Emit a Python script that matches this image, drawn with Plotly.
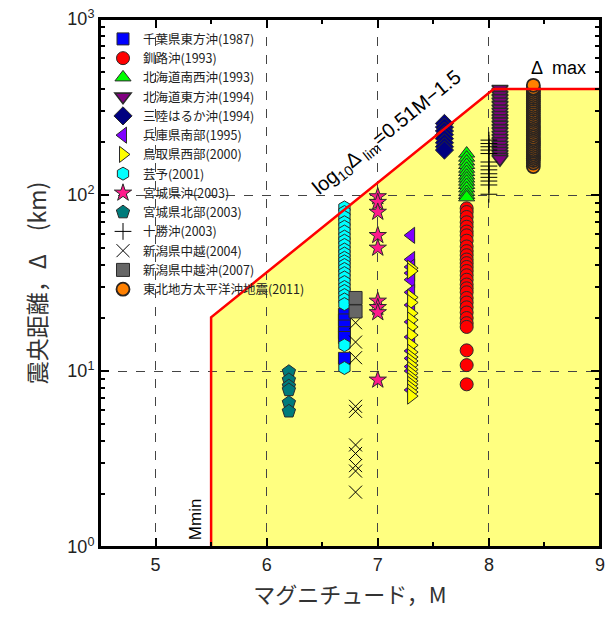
import math
import plotly.graph_objects as go

# ---------------- data ----------------
event_names = [
    "千葉県東方沖(1987)", "釧路沖(1993)", "北海道南西沖(1993)", "北海道東方沖(1994)",
    "三陸はるか沖(1994)", "兵庫県南部(1995)", "鳥取県西部(2000)", "芸予(2001)",
    "宮城県沖(2003)", "宮城県北部(2003)", "十勝沖(2003)", "新潟県中越(2004)",
    "新潟県中越沖(2007)", "東北地方太平洋沖地震(2011)",
]
event_magnitudes = [6.7, 7.8, 7.8, 8.1, 7.6, 7.3, 7.3, 6.7, 7.0, 6.2, 8.0, 6.8, 6.8, 8.4]

dist_chiba = [21, 19.5, 18, 16.5, 15.5, 11.8]
dist_kushiro = [84, 80, 75, 70, 66, 62, 59, 55, 51, 48, 45.5, 43, 41, 39, 37, 35, 33, 31,
                29.5, 28, 26, 24.5, 23, 21.5, 20, 18.7, 17.8, 13.1, 10.8, 8.4]
dist_nansei = [172, 163, 155, 148, 141, 135, 129, 124, 119, 114, 109, 104, 100, 97]
dist_toho = [400, 385, 370, 355, 340, 325, 310, 297, 285, 273, 262, 251, 240, 230, 220,
             211, 202, 193, 185, 178, 171, 165, 160]
dist_sanriku = [255, 243, 231, 220, 209, 198, 188, 180]
dist_hyogo = [59, 43, 39, 36, 33, 28, 23.7, 19, 15.6, 13, 11.8, 10.6, 10, 7.8]
dist_tottori = [38.4, 37, 26.2, 24.5, 21.3, 19.5, 17.8, 16, 14, 12.8, 12, 11.4, 10.8,
                10.2, 9.7, 9.2, 8.8, 8.4, 8, 7.6, 7.2]
dist_geiyo = [85, 80, 75, 70, 66, 62, 58, 55, 52, 49, 46.5, 44, 42, 40, 38, 36, 34, 32,
              30, 28.5, 27, 25.5, 24, 14, 10.4]
dist_miyagi_oki = [98, 91, 80, 59, 50, 25, 23, 21.5, 8.9]
dist_miyagi_hokubu = [9.9, 8.9, 8.2, 7.8, 6.6, 5.9]
dist_tokachi = [205, 196, 188, 180, 172, 154, 146, 139, 132, 126, 120, 114, 101]
dist_chuetsu = [18.8, 14.6, 11.9, 6.3, 5.9, 3.8, 3.4, 2.9, 2.7, 2.05]
dist_chuetsu_oki = [26, 21.8]
dist_tohoku = [145, 152, 157, 161, 165, 169, 173, 177, 181, 186, 191, 196, 201, 206, 211,
               217, 223, 229, 235, 241, 247, 254, 261, 268, 275, 282, 290, 298, 306, 314,
               322, 331, 340, 349, 358, 367, 377, 387, 397, 405, 420]

event_distances = [dist_chiba, dist_kushiro, dist_nansei, dist_toho, dist_sanriku,
                   dist_hyogo, dist_tottori, dist_geiyo, dist_miyagi_oki,
                   dist_miyagi_hokubu, dist_tokachi, dist_chuetsu, dist_chuetsu_oki,
                   dist_tohoku]

# limit model: log10(Δlim) = 0.51 M - 1.5, Mmin = 5.5, Δmax = 400 km
lim_slope = 0.51
lim_intercept = -1.5
m_min = 5.5
delta_max = 400.0
delta_floor = 1.0
m_end = 9.0

x_tick_values = [5, 6, 7, 8, 9]
y_tick_values = [1, 10, 100, 1000]
y_tick_labels = ["10<sup>0</sup>", "10<sup>1</sup>", "10<sup>2</sup>", "10<sup>3</sup>"]

# ---------------- styles ----------------
symbols = ["square", "circle", "triangle-up", "triangle-down", "diamond", "triangle-left",
           "triangle-right", "hexagon", "star", "pentagon", "cross-thin", "x-thin",
           "square", "circle"]
colors = ["#0000FF", "#FF0000", "#00FF00", "#800080", "#000080", "#8000FF", "#FFFF00",
          "#00FFFF", "#FF1A8C", "#007B7B", "#000000", "#000000", "#666666", "#FF8000"]
sizes = [12, 13, 14, 14, 14, 14, 14, 13, 13, 14, 12, 13, 13, 13]
outline_widths = [1, 1, 1, 1.6, 1, 1, 1, 1, 1, 1, 1, 1, 1, 1.8]
outline_colors = ["#2a2a2a"] * 10 + ["#000000", "#000000", "#2a2a2a", "#2a2420"]

fig = go.Figure()

# limit polyline (from the model)
m_corner = (math.log10(delta_max) - lim_intercept) / lim_slope
lim_x = [m_min, m_min, m_corner, m_end]
lim_y = [delta_floor, 10 ** (lim_slope * m_min + lim_intercept), delta_max, delta_max]

fill_path = "M " + " L ".join(f"{x},{y}" for x, y in zip(lim_x + [m_end], lim_y + [delta_floor])) + " Z"
fig.add_shape(type="path", path=fill_path, xref="x", yref="y", layer="below",
              fillcolor="#FFFF80", line=dict(width=0))
# plot frame
fig.add_shape(type="rect", xref="paper", yref="paper", x0=0, x1=1, y0=0, y1=1,
              layer="above", line=dict(color="#000000", width=2), fillcolor="rgba(0,0,0,0)")

for idx in range(len(event_names)):
    d = event_distances[idx]
    m = event_magnitudes[idx]
    fig.add_trace(go.Scatter(
        x=[m] * len(d), y=d, mode="markers", name=event_names[idx],
        marker=dict(symbol=symbols[idx], size=sizes[idx], color=colors[idx],
                    line=dict(color=outline_colors[idx], width=outline_widths[idx])),
    ))

fig.add_trace(go.Scatter(x=lim_x, y=lim_y, mode="lines",
                         line=dict(color="#FF0000", width=2.5),
                         showlegend=False, hoverinfo="skip"))

tick_font = dict(family="Liberation Sans, Arial, sans-serif", size=18, color="#222222")
axis_common = dict(
    showline=True, linecolor="#000000", linewidth=2, mirror="allticks",
    ticks="inside", ticklen=9, tickwidth=1.5, tickcolor="#000000",
    showgrid=True, gridcolor="#444444", gridwidth=1, griddash="dash",
    zeroline=False, tickfont=tick_font, automargin=False, ticklabeloverflow="allow",
)

fig.update_layout(
    width=605, height=618,
    margin=dict(l=92, r=13, t=11, b=79),
    paper_bgcolor="white", plot_bgcolor="white",
    xaxis=dict(range=[4.5, 9], tickmode="array", tickvals=x_tick_values,
               minor=dict(dtick=0.5, ticks="inside", ticklen=5, tickcolor="#000000", showgrid=False),
               title=dict(text="マグニチュード，M", standoff=14,
                          font=dict(family="Noto Sans CJK JP", size=22, color="#333333")),
               **axis_common),
    yaxis=dict(type="log", range=[0, 3], tickmode="array", tickvals=y_tick_values,
               ticktext=y_tick_labels,
               minor=dict(tickvals=[k * 10 ** e for e in range(3) for k in range(2, 10)],
                          ticks="inside", ticklen=5, tickcolor="#000000", showgrid=False),
               title=dict(text="震央距離，Δ　(km)", standoff=14,
                          font=dict(family="Noto Sans CJK JP", size=23, color="#333333")),
               **axis_common),
    legend=dict(x=0.006, y=0.99, xanchor="left", yanchor="top",
                bgcolor="rgba(0,0,0,0)", borderwidth=0, tracegroupgap=0,
                font=dict(family="Noto Sans CJK JP", size=12.5, color="#222222")),
    annotations=[
        dict(text="log<sub>10</sub>Δ<sub> lim</sub>=0.51M−1.5", x=7.08, y=math.log10(225),
             xref="x", yref="y", showarrow=False, textangle=-39,
             font=dict(family="Liberation Sans, Arial, sans-serif", size=20, color="#000000")),
        dict(text="Δ  max", x=8.63, y=2.72, xref="x", yref="y", showarrow=False,
             font=dict(family="Liberation Sans, Arial, sans-serif", size=18, color="#000000")),
        dict(text="Mmin", x=5.356, y=0.159, xref="x", yref="y", showarrow=False,
             textangle=-90,
             font=dict(family="Liberation Sans, Arial, sans-serif", size=17, color="#000000")),
    ],
)

fig.write_html("out.html")
